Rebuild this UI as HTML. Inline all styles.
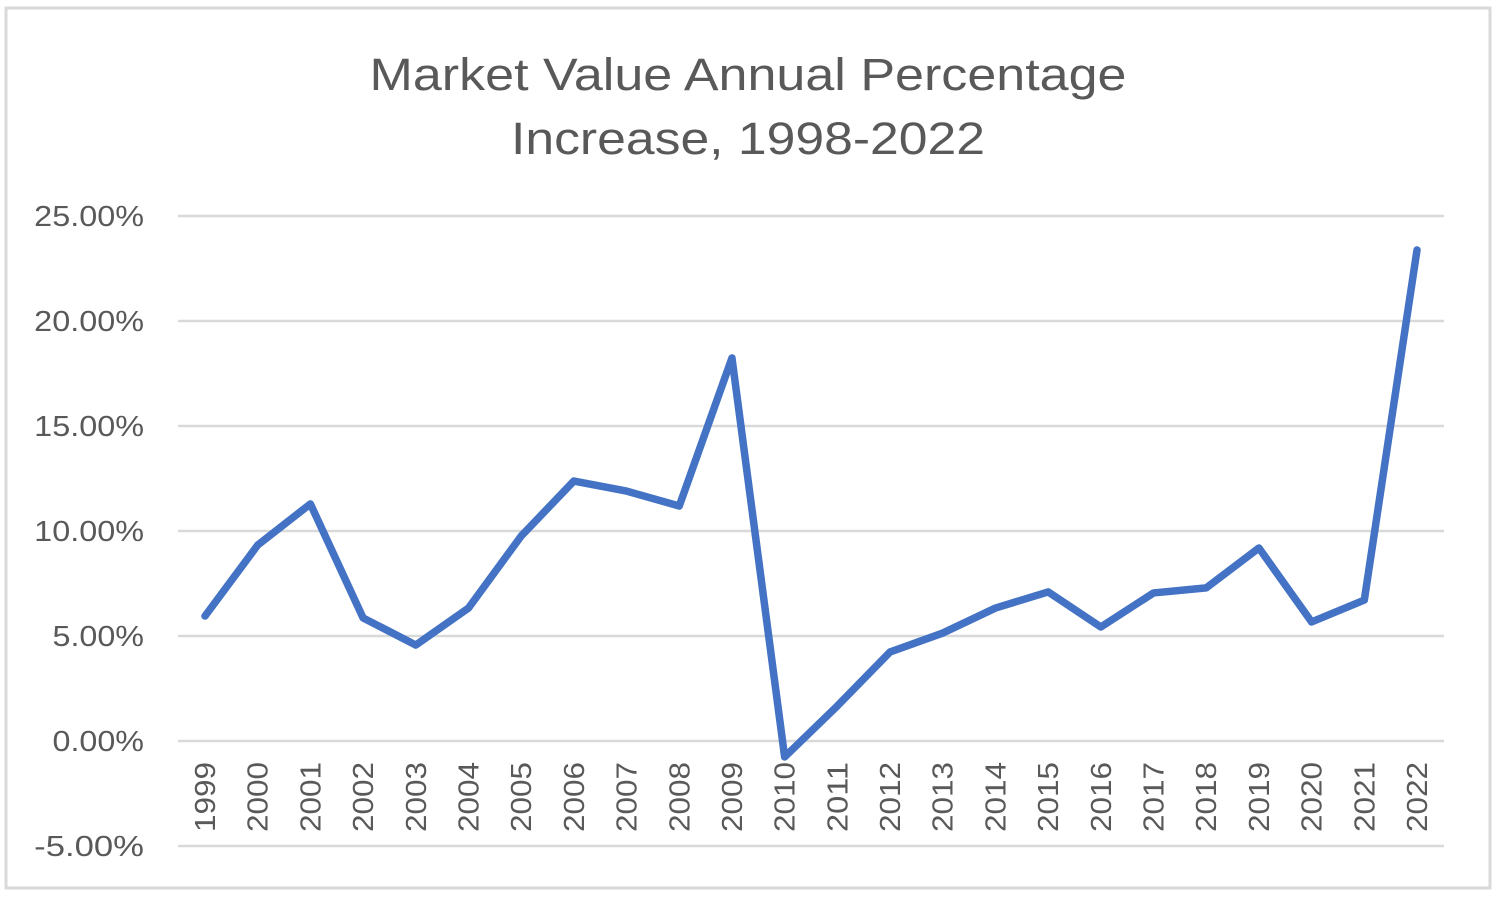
<!DOCTYPE html>
<html><head><meta charset="utf-8"><style>
html,body{margin:0;padding:0;background:#fff;}
svg{display:block;font-family:"Liberation Sans",sans-serif;}
</style></head><body>
<svg id="chart" width="1496" height="908">
<rect x="6" y="8" width="1484" height="880" fill="#fff" stroke="#d9d9d9" stroke-width="3"/>
<text x="748" y="90" text-anchor="middle" font-size="45" fill="#595959" textLength="757" lengthAdjust="spacingAndGlyphs">Market Value Annual Percentage</text>
<text x="748" y="154" text-anchor="middle" font-size="45" fill="#595959" textLength="474" lengthAdjust="spacingAndGlyphs">Increase, 1998-2022</text>
<g id="grid"></g><g id="yticks"></g><g id="xticks"></g><g id="series"></g>
</svg>
<script>
const years=["1999","2000","2001","2002","2003","2004","2005","2006","2007","2008","2009","2010","2011","2012","2013","2014","2015","2016","2017","2018","2019","2020","2021","2022"];
const values=[5.95,9.33,11.29,5.86,4.57,6.33,9.76,12.38,11.9,11.19,18.24,-0.76,1.67,4.24,5.14,6.33,7.1,5.43,7.05,7.29,9.19,5.67,6.71,23.38];
const yTicks=[-5,0,5,10,15,20,25];
const yTickLabels=["-5.00%","0.00%","5.00%","10.00%","15.00%","20.00%","25.00%"];
const NS="http://www.w3.org/2000/svg";
function y(v){return 741-(v)*21;}
function x(i){return 205+i*(1417-205)/(years.length-1);}
const grid=document.getElementById('grid'),yt=document.getElementById('yticks'),xt=document.getElementById('xticks'),se=document.getElementById('series');
yTicks.forEach((t,i)=>{
 const l=document.createElementNS(NS,'line');
 l.setAttribute('x1',178);l.setAttribute('x2',1444);l.setAttribute('y1',y(t));l.setAttribute('y2',y(t));
 l.setAttribute('stroke','#d9d9d9');l.setAttribute('stroke-width','2.5');
 
 
 grid.appendChild(l);
 const tx=document.createElementNS(NS,'text');
 tx.setAttribute('x',144);tx.setAttribute('y',y(t)+10);tx.setAttribute('text-anchor','end');
 tx.setAttribute('font-size','29');tx.setAttribute('fill','#595959');tx.textContent=yTickLabels[i];
 const lab=yTickLabels[i];
 tx.setAttribute('textLength', String(lab.length*18.3));
 tx.setAttribute('lengthAdjust','spacingAndGlyphs');
 
 
 yt.appendChild(tx);
});
years.forEach((yr,i)=>{
 const tx=document.createElementNS(NS,'text');
 tx.setAttribute('transform','translate('+(x(i)+10)+',762) rotate(-90)');
 tx.setAttribute('text-anchor','end');tx.setAttribute('font-size','29');tx.setAttribute('fill','#595959');
 tx.setAttribute('textLength','70');tx.setAttribute('lengthAdjust','spacingAndGlyphs');
 tx.textContent=yr;
 
 
 xt.appendChild(tx);
});
const p=document.createElementNS(NS,'polyline');
p.setAttribute('points',values.map((v,i)=>x(i)+','+y(v)).join(' '));
p.setAttribute('fill','none');p.setAttribute('stroke','#4472c4');p.setAttribute('stroke-width','7.5');
p.setAttribute('stroke-linejoin','round');p.setAttribute('stroke-linecap','round');


se.appendChild(p);
</script>
</body></html>
